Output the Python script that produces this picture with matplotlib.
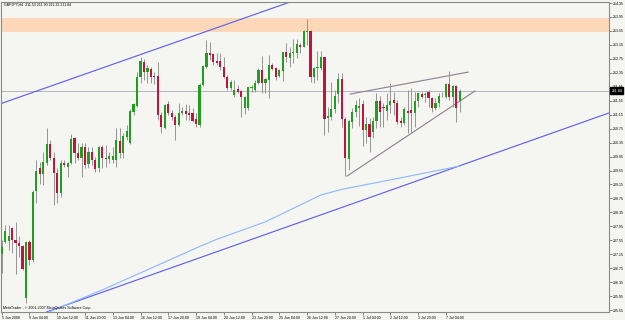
import numpy as np
import matplotlib
matplotlib.use('Agg')
import matplotlib.pyplot as plt
from matplotlib.transforms import blended_transform_factory

# GBPJPY H4 candles, 5 Jun 2008 .. 7 Jul 2008
opens = [
    207.16, 207.51, 207.53, 207.90, 207.56, 207.48, 207.39, 205.89, 207.51, 206.99,
    208.96, 209.61, 209.45, 209.77, 210.31, 209.90, 209.47, 208.91, 209.76, 209.66,
    209.76, 210.47, 210.06, 209.90, 210.22, 209.74, 210.09, 209.85, 209.61, 210.22,
    209.92, 209.87, 209.85, 209.85, 210.41, 210.04, 210.52, 210.33, 211.24, 211.40,
    212.24, 212.67, 212.38, 212.45, 212.26, 212.26, 211.14, 210.78, 211.46, 211.19,
    211.08, 210.85, 211.21, 211.26, 211.19, 211.19, 211.02, 210.85, 212.00, 212.53,
    212.93, 212.88, 212.70, 212.69, 212.53, 212.24, 211.91, 211.71, 211.88, 211.83,
    211.34, 211.33, 211.91, 211.86, 212.05, 212.43, 212.05, 212.14, 212.57, 212.48,
    212.26, 212.41, 212.94, 212.77, 212.91, 212.93, 213.15, 213.10, 213.53, 213.55,
    212.24, 212.48, 212.48, 212.79, 211.05, 211.09, 211.30, 211.74, 212.16, 211.02,
    209.87, 210.95, 211.22, 211.34, 211.46, 210.71, 210.87, 210.66, 210.97, 211.54,
    211.37, 211.26, 211.43, 211.57, 211.49, 210.98, 210.90, 211.26, 211.28, 211.21,
    211.55, 211.74, 211.71, 211.81, 211.62, 211.33, 211.49, 211.71, 211.67, 212.03,
    211.65, 211.97, 211.53]
highs = [
    207.56, 207.99, 207.99, 207.94, 208.08, 207.66, 207.42, 207.54, 207.56, 208.99,
    209.85, 209.80, 210.09, 210.76, 210.43, 210.09, 209.61, 209.85, 209.85, 209.80,
    210.60, 210.52, 210.33, 210.33, 210.33, 210.23, 210.23, 209.95, 210.25, 210.28,
    210.28, 210.09, 210.23, 210.78, 210.76, 210.62, 210.85, 211.30, 211.49, 212.38,
    212.81, 212.74, 212.57, 212.51, 212.38, 212.65, 211.24, 211.46, 211.55, 211.28,
    211.14, 211.49, 211.38, 211.46, 211.43, 211.33, 211.19, 212.05, 212.57, 213.29,
    213.24, 212.93, 212.91, 212.91, 212.81, 212.29, 212.14, 212.14, 212.00, 211.86,
    211.69, 211.95, 212.00, 212.14, 212.49, 212.83, 212.20, 212.86, 212.62, 212.53,
    212.45, 212.95, 213.20, 213.10, 213.32, 213.32, 213.21, 213.58, 213.89, 213.58,
    212.53, 212.97, 212.98, 212.81, 211.38, 212.10, 211.86, 212.34, 212.34, 211.09,
    211.00, 211.33, 211.57, 211.63, 211.57, 211.09, 211.05, 211.09, 211.76, 211.69,
    211.48, 211.76, 212.05, 211.81, 211.57, 211.09, 211.38, 211.86, 211.91, 211.81,
    211.78, 211.81, 211.81, 211.86, 211.67, 211.62, 211.76, 211.81, 212.05, 212.40,
    212.00, 212.00, 211.90]
lows = [
    206.61, 207.46, 207.27, 207.20, 206.59, 207.08, 206.70, 205.76, 206.84, 206.94,
    208.61, 209.16, 209.14, 209.71, 209.85, 208.56, 208.61, 208.80, 209.66, 209.37,
    209.74, 209.76, 209.85, 209.37, 209.61, 209.61, 209.71, 209.52, 209.52, 209.61,
    209.66, 209.76, 209.77, 209.66, 209.90, 209.90, 210.43, 210.31, 211.14, 211.36,
    212.05, 212.14, 212.05, 212.05, 212.03, 211.00, 210.62, 210.75, 211.14, 211.00,
    210.43, 210.83, 211.14, 211.00, 211.00, 210.95, 210.81, 210.81, 211.98, 212.50,
    212.72, 212.57, 212.57, 212.43, 212.19, 211.86, 211.86, 211.67, 211.76, 211.08,
    211.17, 211.28, 211.81, 211.81, 212.03, 211.76, 211.77, 211.63, 212.43, 212.14,
    212.24, 212.12, 212.66, 212.53, 212.63, 212.77, 212.92, 213.08, 213.15, 212.09,
    212.05, 212.14, 212.43, 210.57, 210.66, 211.00, 211.19, 211.48, 210.81, 209.39,
    209.57, 210.76, 211.09, 210.83, 210.25, 210.33, 210.09, 210.47, 210.76, 210.81,
    210.80, 211.00, 211.19, 211.14, 210.88, 210.81, 210.85, 210.62, 210.66, 210.81,
    211.38, 211.62, 211.52, 211.38, 211.24, 211.28, 211.38, 211.67, 211.62, 211.57,
    211.38, 210.95, 211.22]
closes = [
    207.37, 207.83, 207.66, 207.56, 207.46, 207.40, 206.74, 207.51, 206.99, 208.94,
    209.54, 209.44, 209.80, 210.30, 209.90, 209.47, 208.91, 209.77, 209.71, 209.76,
    210.45, 210.04, 209.90, 210.22, 209.71, 210.09, 209.85, 209.59, 210.22, 209.90,
    209.87, 209.97, 209.97, 210.43, 210.04, 210.54, 210.69, 211.26, 211.45, 212.24,
    212.69, 212.38, 212.48, 212.24, 212.24, 211.14, 210.81, 211.43, 211.19, 211.08,
    210.85, 211.21, 211.26, 211.16, 211.14, 210.98, 210.88, 212.00, 212.55, 212.93,
    212.86, 212.67, 212.64, 212.51, 212.24, 211.91, 212.10, 211.86, 211.81, 211.65,
    211.66, 211.93, 211.95, 212.07, 212.43, 212.05, 212.16, 212.57, 212.46, 212.24,
    212.43, 212.94, 212.79, 212.93, 212.95, 213.18, 213.10, 213.55, 213.56, 212.23,
    212.48, 212.53, 212.79, 211.02, 211.11, 211.30, 211.69, 212.16, 211.02, 209.90,
    210.98, 211.22, 211.43, 211.40, 210.71, 210.87, 210.52, 210.97, 211.54, 211.24,
    211.33, 211.42, 211.55, 211.48, 210.95, 210.90, 211.30, 211.21, 211.19, 211.55,
    211.76, 211.67, 211.74, 211.62, 211.33, 211.49, 211.69, 211.72, 212.03, 211.65,
    211.97, 211.33, 211.84]

date_labels = ["5 Jun 2008", "9 Jun 04:00", "10 Jun 12:00", "11 Jun 20:00", "13 Jun 04:00",
               "16 Jun 12:00", "17 Jun 20:00", "19 Jun 04:00", "20 Jun 12:00", "23 Jun 20:00",
               "25 Jun 04:00", "26 Jun 12:00", "27 Jun 20:00", "1 Jul 04:00", "2 Jul 12:00",
               "3 Jul 20:00", "7 Jul 04:00"]

# moving average, read at a few bars
ma_idx = [13, 29, 43, 57, 62, 76, 92, 98, 115, 132]
ma_val = [205.47, 206.13, 206.75, 207.37, 207.58, 208.08, 208.85, 209.01, 209.34, 209.68]

# drawn objects: (bar index pair, price pair)
upper_channel = ([-1, 90], [211.44, 214.62])
lower_channel = ([13, 175], [205.50, 211.20])
wedge_top = ([100.4, 134.4], [211.74, 212.37])
wedge_bottom = ([99.5, 136.4], [209.39, 211.83])
zone_low, zone_high = 213.53, 213.91
last_price = 211.84

BG = '#f5f5f1'
BULL = '#1f9e1f'
BEAR = '#c0143f'
WICK = '#959595'
FS = 2.6
plt.rcParams['font.family'] = ['Liberation Sans', 'DejaVu Sans']

fig = plt.figure(figsize=(6.25, 3.2), dpi=100, facecolor=BG)
ax = fig.add_axes([1 / 625, 8 / 320, 608 / 625, 310.5 / 320], facecolor=BG)

o = np.array(opens)
h = np.array(highs)
l = np.array(lows)
c = np.array(closes)
x = np.arange(len(o))

ax.axhspan(zone_low, zone_high, color='#fdd8b8', lw=0, zorder=0)
ax.axhline(last_price, color='#b4b4c8', lw=0.7, zorder=1)

ax.plot(*upper_channel, color='#5a5af0', lw=0.8, zorder=2)
ax.plot(*lower_channel, color='#5a5af0', lw=0.8, zorder=2)
ax.plot(ma_idx, ma_val, color='#8cb8ff', lw=0.8, zorder=2)
ax.plot(*wedge_top, color='#8a7f90', lw=0.8, zorder=2)
ax.plot(*wedge_bottom, color='#8a7f90', lw=0.8, zorder=2)

ax.vlines(x, l, h, color=WICK, lw=0.7, zorder=3)
up = c >= o
body_h = np.maximum(np.abs(c - o), 0.015)
ax.bar(x[up], body_h[up], bottom=np.minimum(o, c)[up], width=0.62, color=BULL, lw=0, zorder=4)
ax.bar(x[~up], body_h[~up], bottom=np.minimum(o, c)[~up], width=0.62, color=BEAR, lw=0, zorder=4)

ax.set_xlim(-0.2, 175.0)
ax.set_ylim(205.496, 214.393)

yt = np.arange(205.55, 214.36, 0.40)
ax.yaxis.tick_right()
ax.set_yticks(yt)
ax.set_yticklabels(['%.2f' % v for v in yt])
ax.set_xticks(np.arange(0, 8 * len(date_labels), 8))
ax.set_xticklabels(date_labels, ha='left')
ax.tick_params(axis='both', labelsize=FS, length=2, width=0.5, color='#555555', pad=1)

for s in ax.spines.values():
    s.set_color('#8a8a8a')
    s.set_linewidth(0.8)

tr = blended_transform_factory(ax.transAxes, ax.transData)
ax.text(1.004, last_price, '%.2f' % last_price, transform=tr, ha='left', va='center',
        fontsize=FS, color='white', zorder=10,
        bbox=dict(facecolor='black', edgecolor='black', pad=0.8))

fig.text(4 / 625, 1 - 4.5 / 320, 'GBPJPY,H4  211.53 211.90 211.22 211.84',
         fontsize=FS, va='center', ha='left')
fig.text(3 / 625, 1 - 308 / 320, 'MetaTrader - \u00a9 2001-2007 MetaQuotes Software Corp.',
         fontsize=FS, va='center', ha='left')

plt.savefig('out.png', dpi=100, facecolor=BG)
plt.close()
